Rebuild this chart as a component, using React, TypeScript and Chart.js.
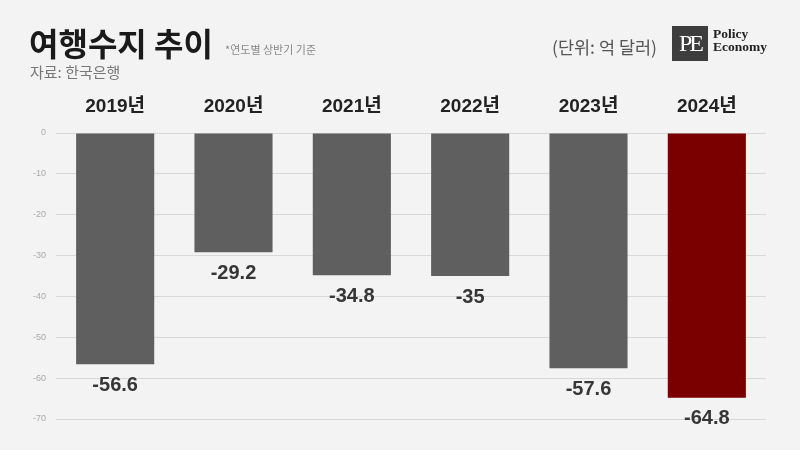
import React, { useEffect, useRef } from "react";
import { Chart, registerables } from "chart.js";

Chart.register(...registerables);

const categories = ["2019년", "2020년", "2021년", "2022년", "2023년", "2024년"];
const balance = [-56.6, -29.2, -34.8, -35, -57.6, -64.8];
const barColors = ["#5f5f5f", "#5f5f5f", "#5f5f5f", "#5f5f5f", "#5f5f5f", "#7a0000"];
const yTicks = { min: -70, max: 0, step: 10 };

const FONT = "'Noto Sans CJK KR', 'Noto Sans', sans-serif";
const NUMFONT = "'Liberation Sans', 'Noto Sans CJK KR', sans-serif";

const valueLabels = {
  id: "valueLabels",
  afterDatasetsDraw(chart: any) {
    const ctx = chart.ctx;
    const meta = chart.getDatasetMeta(0);
    ctx.save();
    ctx.font = `bold 20px ${NUMFONT}`;
    ctx.fillStyle = "#363636";
    ctx.textAlign = "center";
    ctx.textBaseline = "middle";
    meta.data.forEach((bar: any, i: number) => {
      ctx.fillText(String(balance[i]), bar.x, bar.y + 21);
    });
    ctx.restore();
  },
};

export default function App() {
  const ref = useRef<HTMLCanvasElement>(null);
  useEffect(() => {
    const chart = new Chart(ref.current!, {
      type: "bar",
      data: {
        labels: categories,
        datasets: [
          {
            data: balance,
            backgroundColor: barColors,
            barPercentage: 0.66,
            categoryPercentage: 1,
          },
        ],
      },
      options: {
        animation: false,
        responsive: false,
        devicePixelRatio: 1,
        layout: { padding: { top: 80, right: 34, bottom: 31, left: 0 } },
        plugins: { legend: { display: false }, tooltip: { enabled: false } },
        scales: {
          x: {
            position: "top",
            grid: { display: false, drawTicks: false },
            border: { display: false },
            ticks: {
              color: "#222",
              padding: 15,
              font: { family: NUMFONT, size: 19, weight: "bold" },
            },
            afterFit: (s: any) => {
              s.height = 53;
            },
          },
          y: {
            min: yTicks.min,
            max: yTicks.max,
            grid: { color: "#d8d8d8", drawTicks: false, lineWidth: 1 },
            border: { display: false },
            ticks: {
              stepSize: yTicks.step,
              color: "#aaa",
              padding: 10,
              font: { family: NUMFONT, size: 9 },
            },
            afterFit: (s: any) => {
              s.width = 56;
            },
          },
        },
      },
      plugins: [valueLabels],
    });
    return () => chart.destroy();
  }, []);

  return (
    <div
      style={{
        position: "fixed",
        left: 0,
        top: 0,
        width: 800,
        height: 450,
        background: "#f3f3f3",
        fontFamily: FONT,
        overflow: "hidden",
      }}
    >
      <canvas ref={ref} width={800} height={450} style={{ position: "absolute", left: 0, top: 0 }} />
      <div style={{ position: "absolute", left: 29, top: 21, fontSize: 32, fontWeight: 700, color: "#1a1a1a", lineHeight: "42px", whiteSpace: "nowrap" }}>
        여행수지 추이
      </div>
      <div style={{ position: "absolute", left: 225, top: 41, fontSize: 11, color: "#888", whiteSpace: "nowrap" }}>
        *연도별 상반기 기준
      </div>
      <div style={{ position: "absolute", left: 30, top: 61, fontSize: 15, color: "#777", whiteSpace: "nowrap" }}>
        자료: 한국은행
      </div>
      <div style={{ position: "absolute", left: 552, top: 34, fontSize: 17.5, color: "#555", whiteSpace: "nowrap" }}>
        (단위: 억 달러)
      </div>
      <div
        style={{
          position: "absolute",
          left: 672,
          top: 26,
          width: 36,
          height: 35,
          background: "#3d3d3d",
          color: "#fff",
          fontFamily: "'Liberation Serif', 'DejaVu Serif', serif",
          fontSize: 24,
          lineHeight: "35px",
          textAlign: "center",
          letterSpacing: -3,
        }}
      >
        PE
      </div>
      <div
        style={{
          position: "absolute",
          left: 713,
          top: 27,
          fontFamily: "'Liberation Serif', 'DejaVu Serif', serif",
          fontWeight: 700,
          fontSize: 13.5,
          lineHeight: "13px",
          color: "#222",
        }}
      >
        Policy
        <br />
        Economy
      </div>
    </div>
  );
}
